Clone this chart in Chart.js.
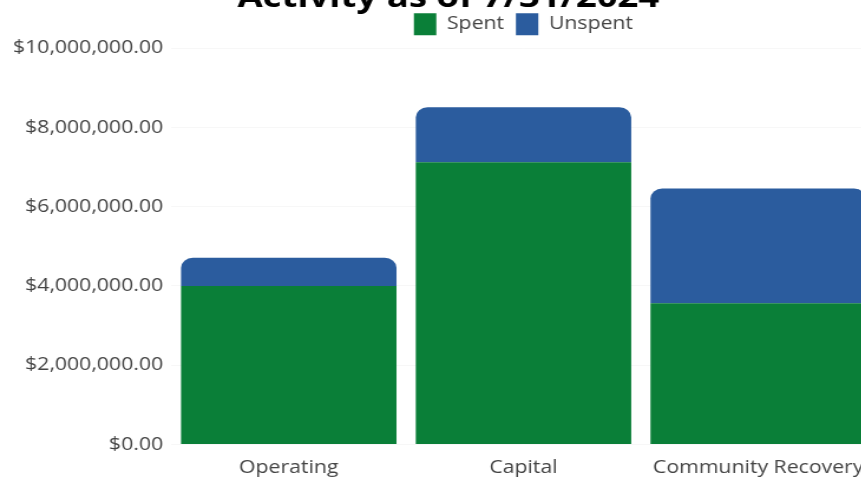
<!DOCTYPE html>
<html>
<head>
<meta charset="utf-8">
<script src="https://cdn.jsdelivr.net/npm/chart.js@4"></script>
<style>
  html, body { margin: 0; padding: 0; background: #fff; overflow: hidden; }
  /* the chart is drawn a bit narrow and widened to fill the page */
  #wrap {
    position: absolute; left: 0; top: -20px;
    width: 772px; height: 504px;
    transform: scaleX(1.18); transform-origin: 0 0;
  }
</style>
</head>
<body>
<div id="wrap"><canvas id="fund-activity"></canvas></div>
<script>
const categories = ["Operating", "Capital", "Community Recovery"];
const spent = [4000000, 7120000, 3560000];
const unspent = [710000, 1390000, 2900000];

const ChartFundActivity = document.getElementById("fund-activity");

// a bit more room between the legend and the plot area
const legendMargin = {
  id: "legendMargin",
  beforeInit(chart) {
    const fitValue = chart.legend.fit;
    chart.legend.fit = function fit() {
      fitValue.bind(chart.legend)();
      this.height += 3;
    };
  },
};

new Chart(ChartFundActivity, {
  type: "bar",
  data: {
    labels: categories,
    datasets: [
      {
        label: "Spent",
        data: spent,
        backgroundColor: "#0a7f38",
        borderSkipped: false,
        borderRadius: 0,
      },
      {
        label: "Unspent",
        data: unspent,
        backgroundColor: "#2b5c9e",
        borderSkipped: false,
        borderRadius: { topLeft: 10, topRight: 10, bottomLeft: 0, bottomRight: 0 },
      },
    ],
  },
  options: {
    maintainAspectRatio: false,
    responsive: true,
    animation: false,
    layout: {
      padding: { left: 4, right: 16 },
    },
    datasets: {
      bar: {
        categoryPercentage: 1,
        barPercentage: 0.918,
      },
    },
    scales: {
      x: {
        stacked: true,
        grid: { display: false },
        border: { display: false },
        ticks: {
          padding: 5,
          color: "#444",
          font: { family: "Open Sans", size: 18 },
        },
      },
      y: {
        stacked: true,
        min: 0,
        max: 10000000,
        border: { display: false },
        grid: { color: "rgba(0,0,0,0.03)", drawTicks: false },
        ticks: {
          stepSize: 2000000,
          padding: 7,
          color: "#444",
          font: { family: "Open Sans", size: 18 },
          callback: (value) =>
            "$" + value.toLocaleString("en-US", { minimumFractionDigits: 2, maximumFractionDigits: 2 }),
        },
      },
      // empty gutter on the right so the title sits a little right of the plot's centre
      gutter: {
        type: "linear",
        position: "right",
        grid: { display: false },
        border: { display: false },
        ticks: { display: false },
        afterFit(scale) {
          scale.width = 14;
        },
      },
    },
    plugins: {
      title: {
        display: true,
        text: "Activity as of 7/31/2024",
        color: "#000",
        font: { family: "Open Sans", size: 31, weight: "bold" },
        padding: { top: 0, bottom: -14 },
      },
      legend: {
        fullSize: false,
        labels: {
          boxWidth: 19,
          boxHeight: 22,
          padding: 10,
          color: "#444",
          font: { family: "Open Sans", size: 18 },
        },
      },
      tooltip: { enabled: false },
    },
  },
  plugins: [legendMargin],
});
</script>
</body>
</html>
